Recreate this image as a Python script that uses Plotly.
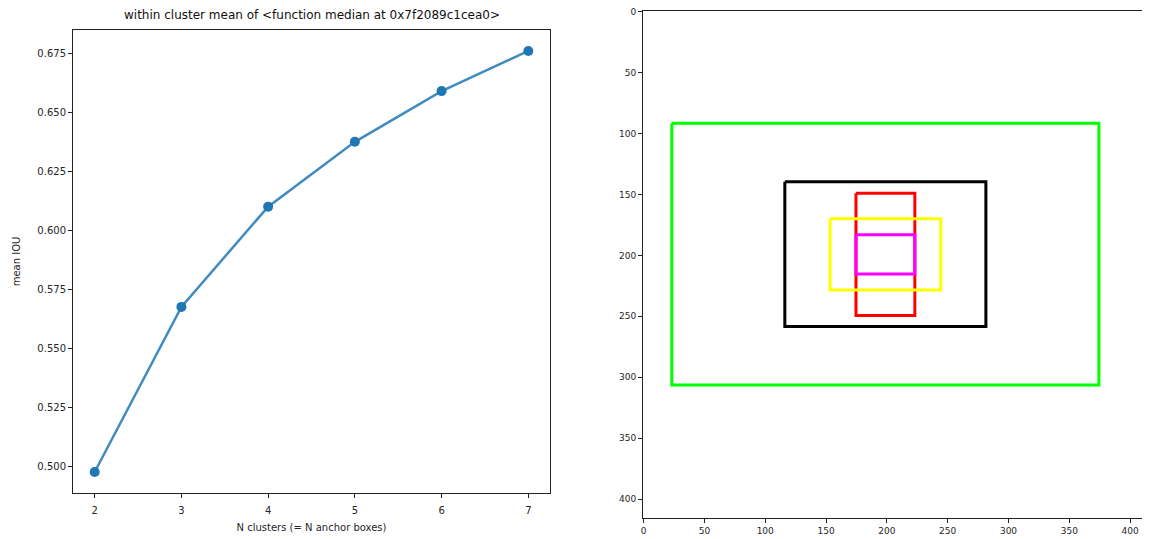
import plotly.graph_objects as go

# ---- data: left chart ----
n_clusters = [2, 3, 4, 5, 6, 7]
mean_iou = [0.4975, 0.5675, 0.6100, 0.6375, 0.6590, 0.6760]
y_ticks = [0.500, 0.525, 0.550, 0.575, 0.600, 0.625, 0.650, 0.675]

# ---- data: right chart (anchor boxes, image pixel coords) ----
box_x0 = [23.2, 116.1, 174.6, 153.3, 174.6]
box_x1 = [374.3, 281.4, 223.0, 244.3, 223.0]
box_y0 = [91.6, 139.5, 149.0, 170.0, 183.0]
box_y1 = [306.4, 258.4, 249.3, 228.5, 215.2]
box_colors = ["#00ff00", "#000000", "#ff0000", "#ffff00", "#ff00ff"]
img_ticks = [0, 50, 100, 150, 200, 250, 300, 350, 400]

# page body has an 8px margin; size the figure to fit the window
OFF = 8
W, H = 1150 - OFF, 539 - OFF
FONT = "DejaVu Sans"


def px(xp):
    return (xp - OFF) / W


def py(yp):
    return 1 - (yp - OFF) / H


fig = go.Figure()

fig.add_trace(go.Scatter(
    x=n_clusters, y=mean_iou, mode="lines+markers",
    line=dict(color="rgba(31,119,180,0.85)", width=2.5),
    marker=dict(color="#1f77b4", size=10),
    xaxis="x", yaxis="y", showlegend=False,
))

for x0, x1, y0, y1, c in zip(box_x0, box_x1, box_y0, box_y1, box_colors):
    fig.add_trace(go.Scatter(
        x=[x0, x1, x1, x0, x0], y=[y0, y0, y1, y1, y0], mode="lines",
        line=dict(color=c, width=3), xaxis="x2", yaxis="y2", showlegend=False,
    ))

axis_common = dict(
    showline=True, linecolor="#222", linewidth=1, mirror=True,
    ticks="outside", ticklen=4, tickcolor="#222", showgrid=False, zeroline=False,
    automargin=False, ticklabeloverflow="allow",
)

fig.update_layout(
    width=W, height=H,
    margin=dict(l=0, r=0, t=0, b=0, autoexpand=False),
    paper_bgcolor="white", plot_bgcolor="white",
    font=dict(family=FONT, size=10, color="#262626"),
    xaxis=dict(domain=[px(73), px(550)], range=[1.75, 7.25],
               tickvals=n_clusters, anchor="y", ticklabelstandoff=4,
               title=dict(text="N clusters (= N anchor boxes)", standoff=8,
                          font=dict(size=10)),
               **axis_common),
    yaxis=dict(domain=[py(493), py(30)], range=[0.4886, 0.6849],
               tickvals=y_ticks, tickformat=".3f", anchor="x",
               title=dict(text="mean IOU", standoff=14, font=dict(size=10)),
               **axis_common),
    xaxis2=dict(domain=[px(643), px(1149)], range=[-0.5, 415.5],
                tickvals=img_ticks, anchor="y2",
                tickfont=dict(size=9), **axis_common),
    yaxis2=dict(domain=[py(518), py(11)], range=[415.5, -0.5],
                tickvals=img_ticks, anchor="x2",
                tickfont=dict(size=9), **axis_common),
    annotations=[dict(
        text="within cluster mean of &lt;function median at 0x7f2089c1cea0&gt;",
        x=(px(73) + px(550)) / 2, y=py(15), xref="paper", yref="paper",
        xanchor="center", yanchor="middle", showarrow=False,
        font=dict(size=12, color="#111"),
    )],
)

fig.write_html("out.html")
